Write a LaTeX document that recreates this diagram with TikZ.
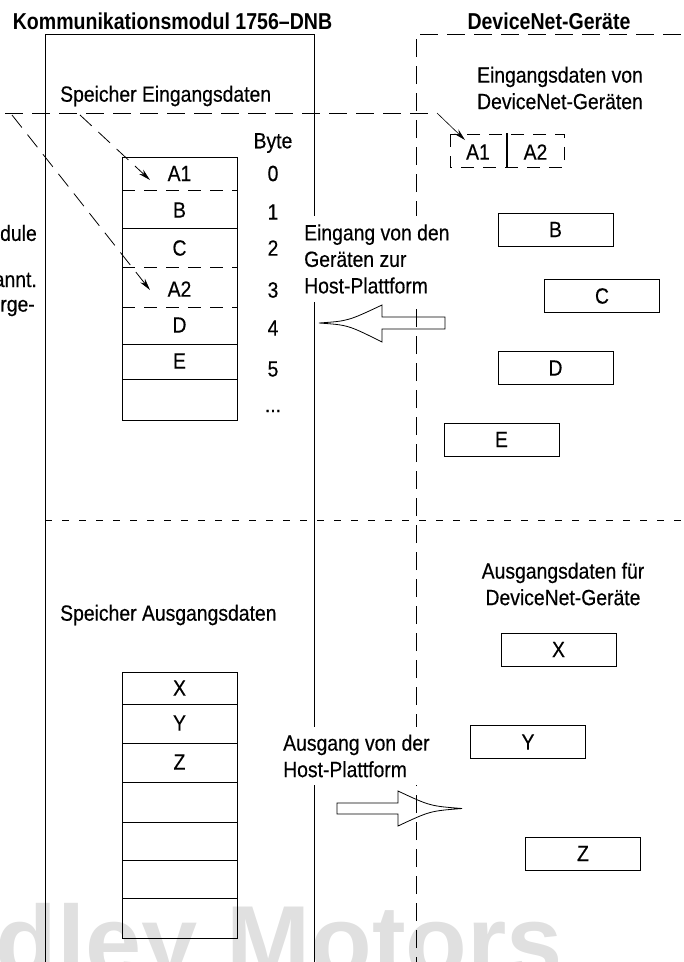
\documentclass[tikz,border=0pt]{standalone}
\usepackage{fontspec}
\setmainfont{Liberation Sans}[FakeStretch=0.88, FakeBold=0.4]
\newfontfamily\titlefont{Liberation Sans}[FakeStretch=0.85]
\newfontfamily\wmfont{Liberation Sans}
\usetikzlibrary{arrows.meta}
\definecolor{wmgray}{RGB}{224,224,224}
\tikzset{
  body/.style={font=\fontsize{22}{26.5}\selectfont, inner sep=0pt},
  ttl/.style={font=\titlefont\bfseries\fontsize{23}{26}\selectfont, inner sep=0pt},
  ln/.style={line width=0.8pt},
  longdash/.style={dash pattern=on 18pt off 9pt},
  shortdash/.style={dash pattern=on 7pt off 10pt},
  celldash/.style={dash pattern=on 13pt off 9pt},
  diagdash/.style={dash pattern=on 16pt off 9pt},
  dbox/.style={draw, line width=0.8pt, minimum width=115pt, minimum height=33pt, body},
  arr/.style={-{Stealth[length=12pt,width=6pt]}},
  cover/.style={body, fill=white, inner xsep=2pt, inner ysep=8pt, align=left, anchor=west},
  wm/.style={font=\wmfont\bfseries\fontsize{101}{110}\selectfont, text=wmgray, inner sep=0pt}
}
\begin{document}
\begin{tikzpicture}[x=1pt,y=-1pt]
\useasboundingbox (0,0) rectangle (684,962);
% watermark
\node[wm, anchor=base west] (wmB) at (226,976) {Motors};
\node[wm, anchor=base east] (wmA) at (198,976) {dley};

% titles
\node[ttl] (t1) at (172.5,21) {Kommunikationsmodul 1756–DNB};
\node[ttl] (t2) at (549,21) {DeviceNet-Geräte};

% module box (solid) and device area (dashed)
\draw[ln] (45,975) -- (45,34) -- (314,34) -- (314,975);
\draw[ln,longdash] (416,975) -- (416,34) -- (690,34);

% separator between input and output
\draw[ln,shortdash] (45,520) -- (690,520);

% left cut text
\node[body, anchor=east] (c1) at (37,233) {dule};
\node[body, anchor=east] (c2) at (37,280) {annt.};
\node[body, anchor=east] (c3) at (35,308) {rge-};

% input memory
\node[body, anchor=west] (sein) at (60,96) {Speicher Eingangsdaten};
\node[body] (byte) at (273,143) {Byte};
\draw[ln] (122,157) rectangle (237,420);
\draw[ln] (122,228) -- (237,228);
\draw[ln] (122,344) -- (237,344);
\draw[ln] (122,379) -- (237,379);
\draw[ln,celldash] (122,190) -- (237,190);
\draw[ln,celldash] (122,267) -- (237,267);
\draw[ln,celldash] (122,307) -- (237,307);
\node[body] (mA1) at (179.5,173.5) {A1};
\node[body] (mB) at (179.5,210) {B};
\node[body] (mC) at (179.5,248) {C};
\node[body] (mA2) at (179.5,289) {A2};
\node[body] (mD) at (179.5,325) {D};
\node[body] (mE) at (179.5,361) {E};
\node[body] (n0) at (273,173.5) {0};
\node[body] (n1) at (273,212) {1};
\node[body] (n2) at (273,248) {2};
\node[body] (n3) at (273,290) {3};
\node[body] (n4) at (273,328) {4};
\node[body] (n5) at (273,369) {5};
\node[body] (n6) at (273,411) {...};

% output memory
\node[body, anchor=west] (saus) at (60,615) {Speicher Ausgangsdaten};
\draw[ln] (122,672) rectangle (237,938);
\foreach \yy in {704,743,782,822,860,898} \draw[ln] (122,\yy) -- (237,\yy);
\node[body] (mX) at (179.5,688) {X};
\node[body] (mY) at (179.5,723) {Y};
\node[body] (mZ) at (179.5,762) {Z};

% dashed routing of A1/A2
\coordinate (h0) at (5,113);
\coordinate (h1) at (437,113);
\coordinate (d1) at (12,115);
\coordinate (d2) at (80,115);
\coordinate (tA2) at (150,290);
\coordinate (tA1) at (150,180);
\coordinate (tA1d) at (465,140);
\draw[ln,longdash] (h0) -- (h1);
\draw[ln,diagdash,arr] (d1) -- (tA2);
\draw[ln,diagdash,arr] (d2) -- (tA1);
\draw[line width=0.6pt,arr] (h1) -- (tA1d);

% device input data
\node[body, align=center] (din) at (560,88) {Eingangsdaten von\\DeviceNet-Geräten};
\draw[ln,celldash] (450,134) rectangle (564,167);
\draw[line width=1.2pt] (507,133) -- (507,168);
\node[body] (dA1) at (478,152) {A1};
\node[body] (dA2) at (535.5,152) {A2};
\node[dbox] (dB) at (555.5,229.5) {B};
\node[dbox] (dC) at (602,296) {C};
\node[dbox] (dD) at (555.5,368) {D};
\node[dbox] (dE) at (501.5,439.5) {E};

% device output data
\node[body, align=center] (dout) at (563,584) {Ausgangsdaten für\\DeviceNet-Geräte};
\node[dbox] (dX) at (558.5,649.5) {X};
\node[dbox] (dY) at (528,742) {Y};
\node[dbox] (dZ) at (583,853.5) {Z};

% transfer labels (mask lines)
\node[cover] (lin) at (302,259) {Eingang von den\\Geräten zur\\Host-Plattform};
\node[cover] (lout) at (281,756) {Ausgang von der\\Host-Plattform};

% block arrows
\draw[ln] (445,317) -- (382,317) -- (382,305) .. controls (348,321) .. (319,323)
  .. controls (348,325) .. (382,342) -- (382,329) -- (445,329) -- cycle;
\draw[ln] (337,803) -- (398,803) -- (398,791) .. controls (430,806) .. (462,808.5)
  .. controls (430,811) .. (398,826) -- (398,814) -- (337,814) -- cycle;
\end{tikzpicture}
\end{document}
